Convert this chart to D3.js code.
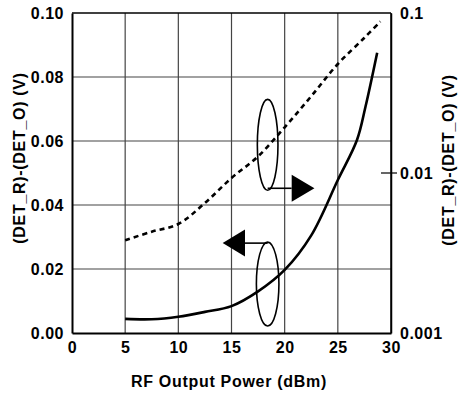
<!DOCTYPE html>
<html>
<head>
<meta charset="utf-8">
<script src="https://cdn.jsdelivr.net/npm/d3@7"></script>
<style>
  html, body { margin: 0; padding: 0; background: #fff; }
  svg { display: block; }
  text { font-family: "Liberation Sans Narrow", "Liberation Sans", Arial, sans-serif; font-weight: bold; fill: #000; }
</style>
</head>
<body>
<svg id="chart" width="459" height="396"></svg>
<script>
// ---- data ----
const xTicks = [0, 5, 10, 15, 20, 25, 30];
const yLeftTicks = [0.00, 0.02, 0.04, 0.06, 0.08, 0.10];
const yRightTicks = [0.001, 0.01, 0.1];
const yRightTickLabels = ["0.001", "0.01", "0.1"];

// solid curve: (DET_R)-(DET_O), linear left axis (V)
const solidX = [5, 7.5, 10, 12.5, 15, 17.5, 20, 22.5, 25, 26.8, 27.6, 28.7];
const solidY = [0.0044, 0.0043, 0.0051, 0.0066, 0.0084, 0.0130, 0.0197, 0.0305, 0.0478, 0.0603, 0.0707, 0.0876];

// dashed curve: same quantity on log right axis (V)
const dashX = [5, 7.5, 10, 12.5, 15, 17.5, 20, 22.5, 25, 27.5, 29];
const dashY = [0.0038, 0.0043, 0.0048, 0.0065, 0.0093, 0.0127, 0.0193, 0.0302, 0.0480, 0.0700, 0.0885];

const xTitle = "RF Output Power (dBm)";
const yTitle = "(DET_R)-(DET_O) (V)";

// annotation ellipses (x units, left-axis units)
const ellRight = { cx: 18.4, cy: 0.0588, rx: 0.97, ry: 0.0142, lineTo: 20.66, tip: 22.8 };
const ellLeft  = { cx: 18.4, cy: 0.0153, rx: 1.06, ry: 0.0131, lineTo: 16.27, tip: 14.17 };

// ---- layout ----
const svg = d3.select("#chart");
const L = 72, R = 391, T = 13, B = 333;

const x = d3.scaleLinear().domain([0, 30]).range([L, R]);
const yL = d3.scaleLinear().domain([0, 0.10]).range([B, T]);
const yR = d3.scaleLog().domain([0.001, 0.1]).range([B, T]);

// grid
const g = svg.append("g");
g.selectAll("line.vg").data(xTicks.slice(1, -1)).enter().append("line")
  .attr("x1", d => x(d)).attr("x2", d => x(d)).attr("y1", T).attr("y2", B)
  .attr("stroke", "#444").attr("stroke-width", 1.2);
g.selectAll("line.hg").data(yLeftTicks.slice(1, -1)).enter().append("line")
  .attr("x1", L).attr("x2", R).attr("y1", d => yL(d)).attr("y2", d => yL(d))
  .attr("stroke", "#444").attr("stroke-width", 1.2);

// frame
svg.append("line").attr("x1", L).attr("x2", R).attr("y1", T).attr("y2", T).attr("stroke", "#000").attr("stroke-width", 1.5);
svg.append("line").attr("x1", R).attr("x2", R).attr("y1", T).attr("y2", B).attr("stroke", "#000").attr("stroke-width", 1.5);

// axes
const axL = svg.append("g").attr("transform", `translate(${L},0)`)
  .call(d3.axisLeft(yL).tickValues(yLeftTicks).tickFormat(d3.format(".2f")).tickSize(0).tickPadding(8));
const axB = svg.append("g").attr("transform", `translate(0,${B})`)
  .call(d3.axisBottom(x).tickValues(xTicks).tickFormat(d3.format("d")).tickSize(0).tickPadding(9));
const axR = svg.append("g").attr("transform", `translate(${R},0)`)
  .call(d3.axisRight(yR).tickValues(yRightTicks).tickFormat((d, i) => yRightTickLabels[i]).tickSize(0).tickPadding(9));

[axL, axB, axR].forEach(a => {
  a.selectAll("text").style("font-size", "16px")
    .style("font-family", "'Liberation Sans Narrow', 'Liberation Sans', Arial, sans-serif")
    .style("font-weight", "bold").style("letter-spacing", "0.5px").attr("fill", "#000");
});
axL.select(".domain").attr("stroke", "#000").attr("stroke-width", 2);
axB.select(".domain").attr("stroke", "#000").attr("stroke-width", 2);
axR.select(".domain").attr("stroke", "#000").attr("stroke-width", 1.5);

// right axis 0.01 tick crossing the axis
svg.append("line").attr("x1", R - 10).attr("x2", R + 6)
  .attr("y1", yR(0.01)).attr("y2", yR(0.01)).attr("stroke", "#000").attr("stroke-width", 1.2);

// curves
const solidLine = d3.line().x(d => x(d[0])).y(d => yL(d[1])).curve(d3.curveCatmullRom.alpha(0.5));
svg.append("path").datum(solidX.map((v, i) => [v, solidY[i]]))
  .attr("d", solidLine).attr("fill", "none").attr("stroke", "#000").attr("stroke-width", 2.6);

const dashLine = d3.line().x(d => x(d[0])).y(d => yR(d[1])).curve(d3.curveCatmullRom.alpha(0.5));
svg.append("path").datum(dashX.map((v, i) => [v, dashY[i]]))
  .attr("d", dashLine).attr("fill", "none").attr("stroke", "#000").attr("stroke-width", 2.6)
  .attr("stroke-dasharray", "5,4");

// annotations
function annot(e, fromTop) {
  const cx = x(e.cx), cy = yL(e.cy);
  const rx = x(e.cx + e.rx) - cx, ry = yL(e.cy) - yL(e.cy + e.ry);
  svg.append("ellipse").attr("cx", cx).attr("cy", cy).attr("rx", rx).attr("ry", ry)
    .attr("fill", "none").attr("stroke", "#000").attr("stroke-width", 1.6);
  const ly = fromTop ? cy - ry + 1 : cy + ry - 2;
  svg.append("line").attr("x1", cx).attr("x2", x(e.lineTo)).attr("y1", ly).attr("y2", ly)
    .attr("stroke", "#000").attr("stroke-width", 1.6);
  const bx = x(e.lineTo), tx = x(e.tip), h = 13.5;
  svg.append("path").attr("d", `M${bx},${ly - h}L${tx},${ly}L${bx},${ly + h}Z`).attr("fill", "#000");
}
annot(ellRight, false);
annot(ellLeft, true);

// titles
const titleStyle = sel => sel.style("font-size", "16px").style("letter-spacing", "0.7px");
svg.append("text").attr("x", 229).attr("y", 387).attr("text-anchor", "middle").call(titleStyle).text(xTitle);
svg.append("text").attr("transform", "translate(25,158) rotate(-90)").attr("text-anchor", "middle").call(titleStyle).text(yTitle);
svg.append("text").attr("transform", "translate(454,160) rotate(-90)").attr("text-anchor", "middle").call(titleStyle).text(yTitle);
</script>
</body>
</html>
